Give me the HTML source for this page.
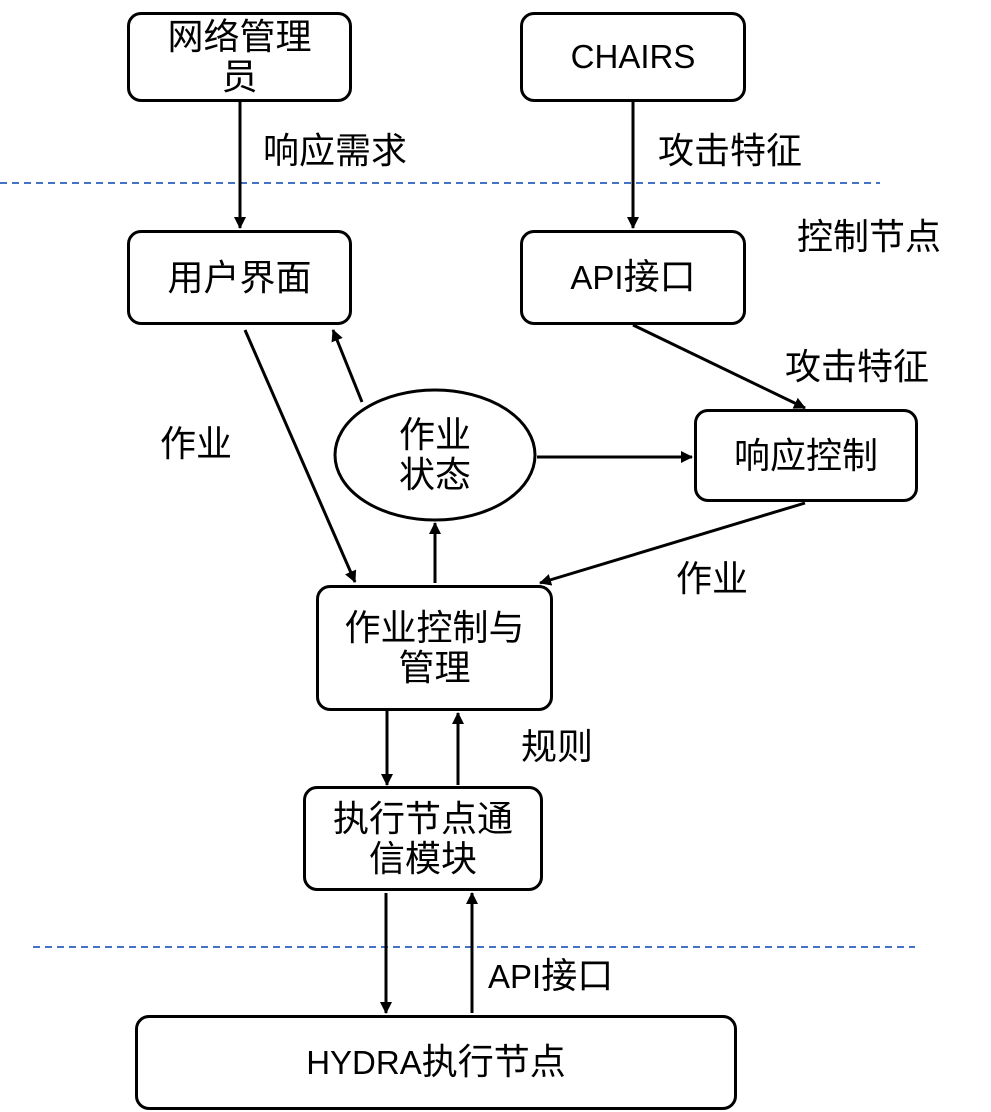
<!DOCTYPE html>
<html><head><meta charset="utf-8"><style>
html,body{margin:0;padding:0;background:#fff;}
body{width:991px;height:1112px;position:relative;overflow:hidden;font-family:"Liberation Sans","Noto Sans CJK SC",sans-serif;}
.b{position:absolute;border:3px solid #000;border-radius:14px;box-sizing:border-box;display:flex;align-items:center;justify-content:center;text-align:center;font-size:36px;line-height:40px;color:#000;background:#fff;}
.t{position:absolute;font-size:36px;color:#000;white-space:nowrap;line-height:40px;}
.l{font-size:33px;}
svg{position:absolute;left:0;top:0;}
</style></head><body>
<svg width="991" height="1112">
<defs><marker id="a" markerWidth="12" markerHeight="12" refX="11" refY="6" orient="auto" markerUnits="userSpaceOnUse"><path d="M0,0 L12,6 L0,12 z" fill="#000"/></marker></defs>
<line x1="0" y1="183" x2="880" y2="183" stroke="#4472c4" stroke-width="2" stroke-dasharray="7,5"/>
<line x1="33" y1="947" x2="915" y2="947" stroke="#4472c4" stroke-width="2" stroke-dasharray="7,5"/>
<g stroke="#000" stroke-width="3" marker-end="url(#a)">
<line x1="240" y1="102" x2="240" y2="228"/>
<line x1="633" y1="102" x2="633" y2="228"/>
<line x1="633" y1="325" x2="805" y2="408"/>
<line x1="245" y1="330" x2="355" y2="582"/>
<line x1="362" y1="402" x2="333" y2="330"/>
<line x1="537" y1="457" x2="692" y2="457"/>
<line x1="435" y1="583" x2="435" y2="523"/>
<line x1="805" y1="503" x2="540" y2="583"/>
<line x1="387" y1="711" x2="387" y2="785"/>
<line x1="458" y1="785" x2="458" y2="713"/>
<line x1="386" y1="893" x2="386" y2="1013"/>
<line x1="472" y1="1013" x2="472" y2="893"/>
</g>
<ellipse cx="435" cy="455" rx="100" ry="65" fill="#fff" stroke="#000" stroke-width="3"/>
</svg>
<div class="b" style="left:127px;top:12px;width:225px;height:90px;">网络管理<br>员</div>
<div class="b" style="left:520px;top:12px;width:226px;height:90px;"><span class="l">CHAIRS</span></div>
<div class="b" style="left:127px;top:230px;width:225px;height:95px;">用户界面</div>
<div class="b" style="left:520px;top:230px;width:226px;height:95px;"><span><span class="l">API</span>接口</span></div>
<div class="b" style="left:694px;top:409px;width:224px;height:93px;">响应控制</div>
<div class="t" style="left:335px;top:415px;width:200px;text-align:center;">作业<br>状态</div>
<div class="b" style="left:316px;top:585px;width:237px;height:126px;">作业控制与<br>管理</div>
<div class="b" style="left:303px;top:786px;width:240px;height:105px;">执行节点通<br>信模块</div>
<div class="b" style="left:135px;top:1015px;width:602px;height:95px;"><span><span class="l">HYDRA</span>执行节点</span></div>
<div class="t" style="left:263px;top:131px;">响应需求</div>
<div class="t" style="left:658px;top:131px;">攻击特征</div>
<div class="t" style="left:797px;top:217px;">控制节点</div>
<div class="t" style="left:785px;top:347px;">攻击特征</div>
<div class="t" style="left:160px;top:424px;">作业</div>
<div class="t" style="left:676px;top:559px;">作业</div>
<div class="t" style="left:521px;top:727px;">规则</div>
<div class="t" style="left:488px;top:956px;"><span class="l">API</span>接口</div>
</body></html>
